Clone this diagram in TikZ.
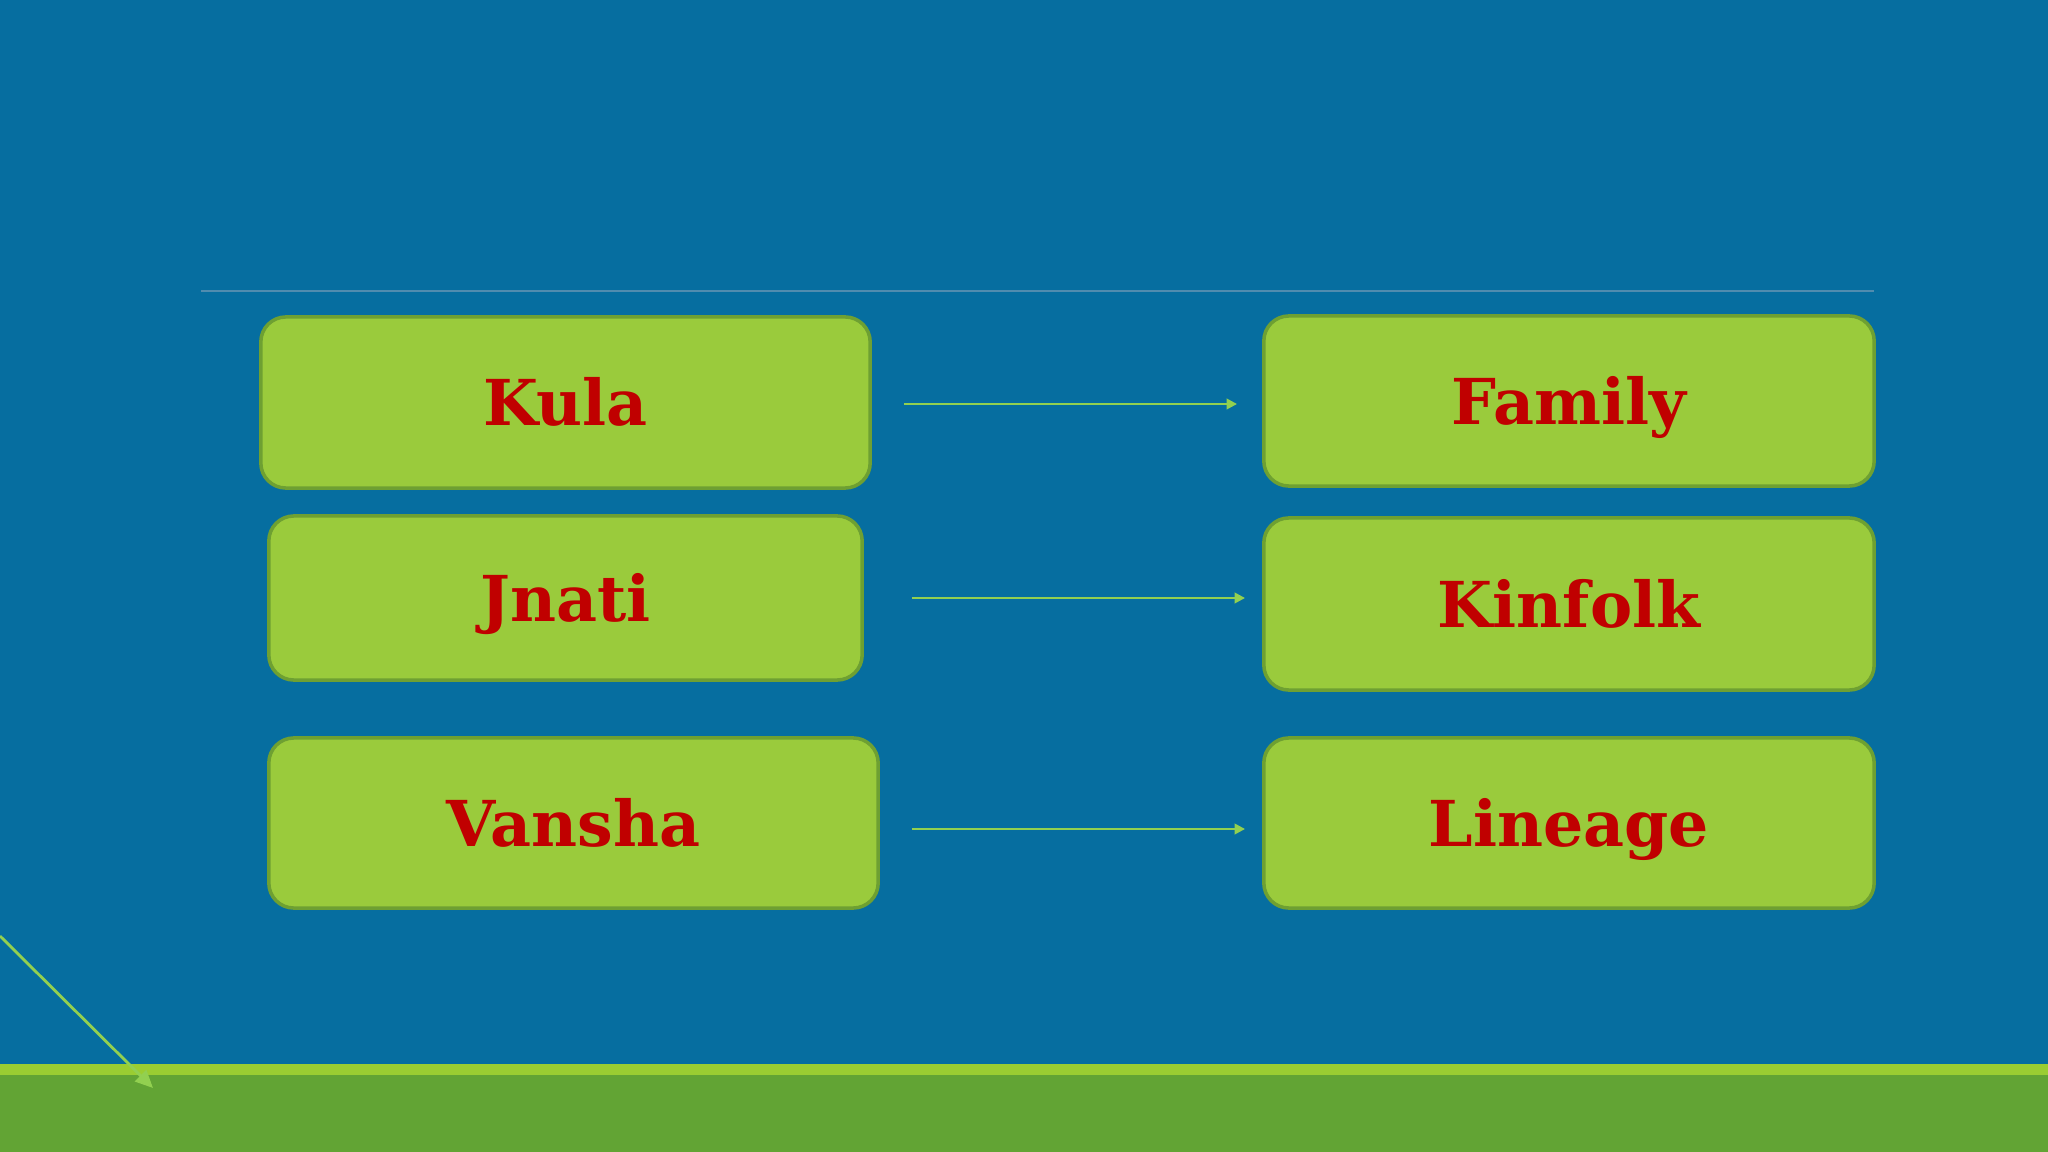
\documentclass[tikz,border=0pt]{standalone}
\usepackage{fontspec}
\setmainfont{DejaVu Serif}
\usetikzlibrary{arrows.meta}
\definecolor{slideblue}{RGB}{6,110,160}
\definecolor{boxgreen}{RGB}{154,203,60}
\definecolor{boxedge}{RGB}{110,160,50}
\definecolor{wordred}{RGB}{192,0,0}
\definecolor{bandlight}{RGB}{154,205,50}
\definecolor{banddark}{RGB}{98,164,52}
\definecolor{rulegray}{RGB}{80,140,175}
\definecolor{arrowgreen}{RGB}{146,208,80}
\tikzset{
  box/.style={draw=boxedge,line width=1pt,fill=boxgreen,rounded corners=0.25cm,
    text=wordred,font=\fontsize{18}{22}\selectfont\bfseries,
    text height=13.1pt,text depth=0pt},
  maparrow/.style={arrowgreen,line width=0.7pt,-{Triangle[length=3pt,width=3pt]}}
}
\begin{document}
\begin{tikzpicture}[x=0.01cm,y=-0.01cm]
\useasboundingbox (0,0) rectangle (2048,1152);
\fill[slideblue] (-5,-5) rectangle (2053,1157);
\fill[banddark] (-5,1075) rectangle (2053,1157);
\fill[bandlight] (-5,1064) rectangle (2053,1075);
\draw[rulegray,line width=0.5pt] (201,291) -- (1874,291);
% left column
\node[box,minimum width=6.09cm,minimum height=1.71cm] (kula) at (565.5,402.5) {Kula};
\node[box,minimum width=5.93cm,minimum height=1.64cm] (jnati) at (565.5,598) {Jnati};
\node[box,minimum width=6.09cm,minimum height=1.70cm] (vansha) at (573.5,823) {Vansha};
% right column
\node[box,minimum width=6.10cm,minimum height=1.70cm] (family) at (1569,401) {Family};
\node[box,minimum width=6.10cm,minimum height=1.72cm] (kinfolk) at (1569,604) {Kinfolk};
\node[box,minimum width=6.10cm,minimum height=1.70cm] (lineage) at (1569,823) {Lineage};
% arrows
\draw[maparrow,shorten <=0.32cm,shorten >=0.25cm] ([yshift=-0.015cm]kula.east) -- ([yshift=-0.015cm]kula.east -| family.west);
\draw[maparrow,shorten <=0.48cm,shorten >=0.17cm] (jnati.east) -- (jnati.east -| kinfolk.west);
\draw[maparrow,shorten <=0.32cm,shorten >=0.17cm] ([yshift=-0.06cm]vansha.east) -- ([yshift=-0.06cm]vansha.east -| lineage.west);
\coordinate (tailstart) at (0,936);
\coordinate (tailend) at (153,1088);
\draw[arrowgreen,line width=0.8pt,-{Triangle[length=5pt,width=4.5pt]}] (tailstart) -- (tailend);
\end{tikzpicture}
\end{document}
